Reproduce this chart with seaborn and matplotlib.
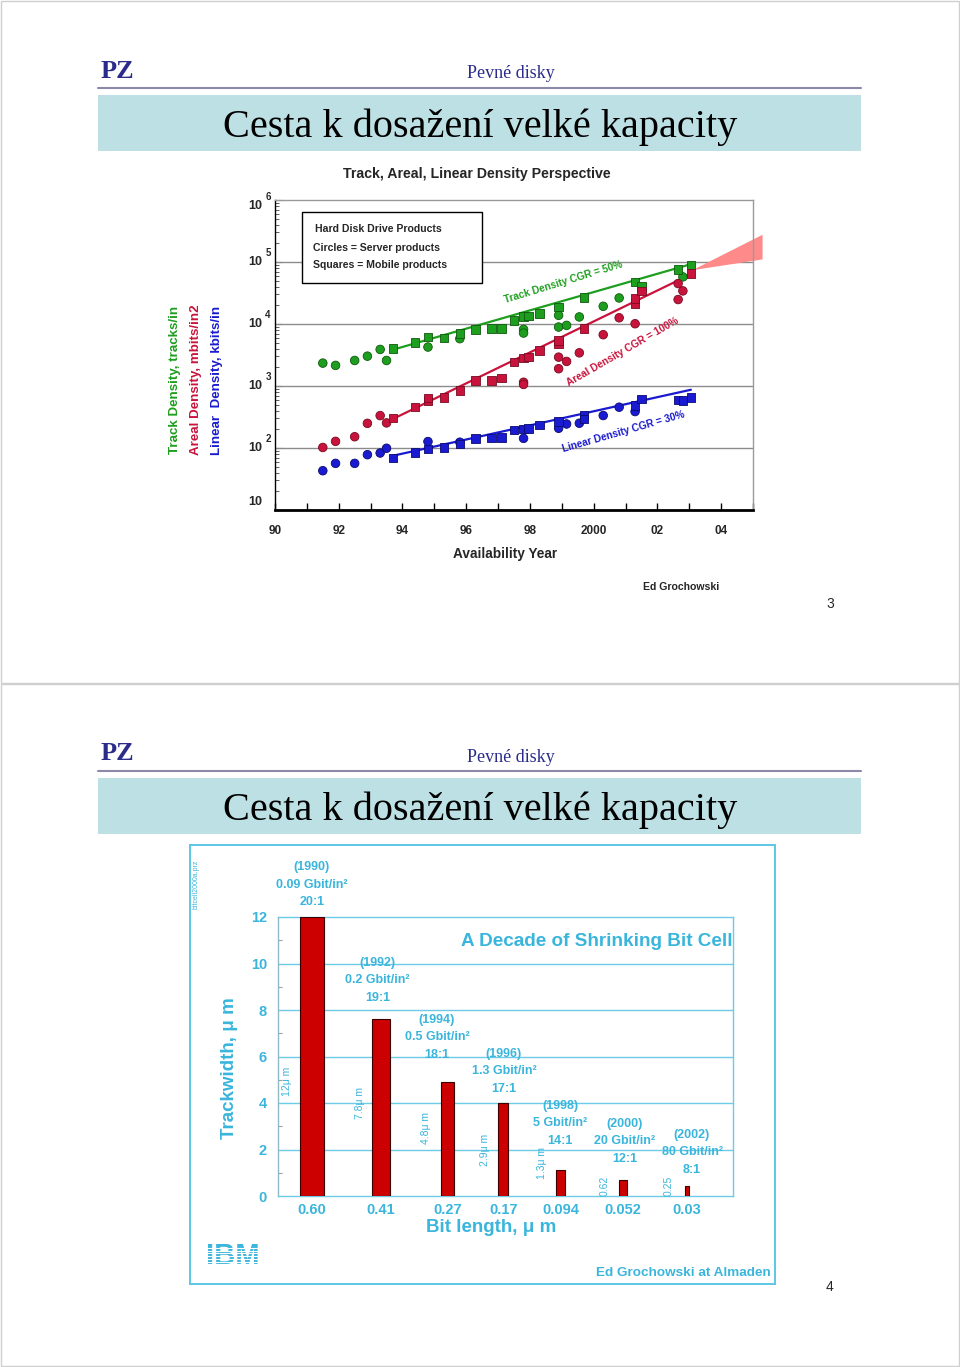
import matplotlib
matplotlib.use("Agg")
import matplotlib.pyplot as plt
from matplotlib.patches import Rectangle
from matplotlib.lines import Line2D
import pandas as pd
import seaborn as sns

# ---------------- slide 3: track / areal / linear density ----------------
track_server_years = [1991.5, 1991.9, 1992.5, 1992.9, 1993.3, 1993.5, 1994.8, 1995.8, 1997.8, 1997.8,
                      1998.9, 1998.9, 1999.15, 1999.55, 2000.3, 2000.8, 2002.8]
track_server_vals = [2340, 2150, 2580, 3030, 3890, 2580, 4250, 5800, 8200, 7150,
                     13800, 8930, 9500, 13000, 19300, 26300, 57500]
track_mobile_years = [1993.7, 1994.4, 1994.8, 1995.3, 1995.8, 1996.3, 1996.8, 1997.1, 1997.5, 1997.8,
                      1997.95, 1998.3, 1998.9, 1999.7, 2001.3, 2001.5, 2002.65, 2003.05]
track_mobile_vals = [3990, 4990, 6170, 5940, 6980, 8200, 8410, 8410, 11500, 13300,
                     13500, 14700, 18800, 26700, 47700, 40600, 75700, 88900]

areal_server_years = [1991.5, 1991.9, 1992.5, 1992.9, 1993.3, 1993.5, 1997.8, 1997.8, 1998.9, 1998.9,
                      1999.15, 1999.55, 2000.3, 2000.8, 2001.3, 2002.65, 2002.8, 2002.65]
areal_server_vals = [102, 128, 152, 250, 333, 254, 1150, 1060, 2920, 1900,
                     2490, 3430, 6720, 12600, 10100, 44900, 34200, 24800]
areal_mobile_years = [1993.7, 1994.4, 1994.8, 1994.8, 1995.3, 1995.8, 1996.3, 1996.8, 1997.1, 1997.5,
                      1997.8, 1997.95, 1998.3, 1998.9, 1998.9, 1999.7, 2001.3, 2001.3, 2001.5, 2003.05]
areal_mobile_vals = [305, 455, 569, 644, 659, 845, 1230, 1230, 1340, 2430,
                     2850, 2930, 3750, 4810, 5450, 8410, 21300, 25700, 33800, 65200]

linear_server_years = [1991.5, 1991.9, 1992.5, 1992.9, 1993.3, 1993.5, 1994.8, 1995.8, 1997.8, 1998.9,
                       1999.15, 1999.55, 2000.3, 2000.8, 2001.3]
linear_server_vals = [43, 56.5, 56.5, 78, 83, 99, 127, 124, 143, 208,
                      244, 251, 334, 455, 387]
linear_mobile_years = [1993.7, 1994.4, 1994.8, 1995.3, 1995.8, 1996.3, 1996.8, 1997.1, 1997.5, 1997.8,
                       1997.95, 1998.3, 1998.9, 1999.7, 1999.7, 2001.3, 2001.5, 2002.65, 2002.8, 2003.05]
linear_mobile_vals = [69, 85, 96, 102, 116, 143, 145, 149, 195, 203,
                      208, 236, 267, 342, 294, 484, 619, 597, 583, 659]

trend_years = [1993.7, 2003.05]
track_trend = [3850, 92200]
areal_trend = [294, 63500]
linear_trend = [75, 870]

forecast_years = [2003.1, 2005.3, 2005.3]
forecast_vals = [73800, 275000, 110000]

year_ticks = list(range(1990, 2006))
year_labels = ["90", "", "92", "", "94", "", "96", "", "98", "", "2000", "", "02", "", "04", ""]
decades = [10, 100, 1000, 10000, 100000, 1000000]

# ---------------- slide 4: shrinking bit cell ----------------
bit_lengths = ["0.60", "0.41", "0.27", "0.17", "0.094", "0.052", "0.03"]
trackwidths = [12.0, 7.6, 4.9, 4.0, 1.1, 0.7, 0.45]
cell_years = ["(1990)", "(1992)", "(1994)", "(1996)", "(1998)", "(2000)", "(2002)"]
densities = ["0.09", "0.2", "0.5", "1.3", "5", "20", "80"]
ratios = ["20:1", "19:1", "18:1", "17:1", "14:1", "12:1", "8:1"]
width_labels = ["12\u03bc m", "7.8\u03bc m", "4.8\u03bc m", "2.9\u03bc m", "1.3\u03bc m", "0.62", "0.25"]

# layout for slide 4 (slot units / data units)
bar_widths = [0.37, 0.29, 0.21, 0.16, 0.145, 0.13, 0.065]
bar_shift = [0.0, 0.10, 0.17, 0.06, -0.02, -0.02, 0.0]
note_y = [12.63, 8.53, 6.08, 4.61, 2.37, 1.59, 1.12]
note_dx = [0.0, 0.05, 0.0, 0.07, -0.03, 0.0, 0.08]
vlabel_pos = [(-0.4, 4.91), (0.77, 4.0), (1.82, 2.93), (2.77, 1.98), (3.68, 1.42), (4.69, 0.43), (5.7, 0.43)]

SERIF = "Liberation Serif"
SANS = "Liberation Sans"
NAVY = "#2b2b8c"
CYAN = "#3ab5dc"
GREEN, GREEN_E = "#1e9e1e", "#0c5a0c"
RED, RED_E = "#c8143c", "#780a20"
BLUE, BLUE_E = "#1a1ad0", "#0a0a70"

sns.set_style("white")
plt.rcParams["font.family"] = [SANS, "DejaVu Sans"]

W, H = 960, 1367
fig = plt.figure(figsize=(W / 100, H / 100), dpi=100)


def fx(px):
    return px / W


def fy(py):
    return 1 - py / H


def add_axes_px(left, top, right, bottom):
    return fig.add_axes([fx(left), fy(bottom), (right - left) / W, (bottom - top) / H])


# page frames
for top, bottom in [(1, 683), (684, 1366)]:
    fig.add_artist(Rectangle((fx(1), fy(bottom)), fx(958), fy(top) - fy(bottom),
                             fill=False, edgecolor="#cfcfcf", lw=1))


def slide_header(y0):
    fig.text(fx(117), fy(y0 + 71), "PZ", family=SERIF, fontsize=19, fontweight="bold",
             color=NAVY, ha="center", va="center")
    fig.text(fx(511), fy(y0 + 74), "Pevné disky", family=SERIF, fontsize=13,
             color=NAVY, ha="center", va="center")
    fig.add_artist(Line2D([fx(98), fx(861)], [fy(y0 + 88)] * 2, color="#8c88a8", lw=1.5))
    fig.add_artist(Rectangle((fx(98), fy(y0 + 151)), fx(861) - fx(98), fy(y0 + 95) - fy(y0 + 151),
                             color="#bce0e4", lw=0))
    fig.text(fx(480), fy(y0 + 127), "Cesta k dosažení velké kapacity", family=SERIF,
             fontsize=29, color="black", ha="center", va="center")


slide_header(0)
slide_header(683)

# ================= top chart =================
rows = []
for series, kind, xs, ys in [
    ("track", "server", track_server_years, track_server_vals),
    ("track", "mobile", track_mobile_years, track_mobile_vals),
    ("areal", "server", areal_server_years, areal_server_vals),
    ("areal", "mobile", areal_mobile_years, areal_mobile_vals),
    ("linear", "server", linear_server_years, linear_server_vals),
    ("linear", "mobile", linear_mobile_years, linear_mobile_vals),
]:
    for x, y in zip(xs, ys):
        rows.append({"year": x, "value": y, "series": series, "kind": kind})
df = pd.DataFrame(rows)

ax1 = add_axes_px(275, 200, 753, 510)
ax1.set_yscale("log")

for a in decades[1:-1]:
    ax1.axhline(a, color="#8c8c8c", lw=1, zorder=1)

ax1.fill(forecast_years, forecast_vals, color="#ff8a8a", lw=0, clip_on=False, zorder=2)

for series, col, edge, trend in [("track", GREEN, GREEN_E, track_trend),
                                 ("areal", RED, RED_E, areal_trend),
                                 ("linear", BLUE, BLUE_E, linear_trend)]:
    ax1.plot(trend_years, trend, color=col, lw=1.6, zorder=3)
    sns.scatterplot(data=df[df["series"] == series], x="year", y="value", style="kind",
                    markers={"server": "o", "mobile": "s"}, color=col, edgecolor=edge,
                    linewidth=0.6, s=38, legend=False, ax=ax1, zorder=4)

ax1.set_xlim(1990, 2005)
ax1.set_ylim(10, 1000000)
ax1.set_xlabel("")
ax1.set_ylabel("")
ax1.set_xticks(year_ticks)
ax1.set_xticklabels(year_labels, fontsize=8.5, fontweight="bold")
ax1.tick_params(axis="x", direction="in", length=5, width=1, pad=11, color="black", bottom=True)
ax1.tick_params(axis="y", which="both", direction="in", left=True, labelleft=False, color="#444444")
ax1.tick_params(axis="y", which="major", length=5)
ax1.tick_params(axis="y", which="minor", length=3, width=0.6)
ax1.spines["left"].set_color("black")
ax1.spines["left"].set_linewidth(1.0)
ax1.spines["bottom"].set_color("black")
ax1.spines["bottom"].set_linewidth(2.0)
for side in ["top", "right"]:
    ax1.spines[side].set_color("#9a9a9a")
    ax1.spines[side].set_linewidth(1.0)

label_shift = {10: 8, 1000000: -6}
for i, d in enumerate(decades):
    dy = label_shift.get(d, 0)
    ax1.annotate("10", xy=(0, d), xycoords=("axes fraction", "data"), xytext=(-20, dy),
                 textcoords="offset pixels", ha="center", va="center", fontsize=9, fontweight="bold",
                 annotation_clip=False)
    if i > 0:
        ax1.annotate(str(i + 1), xy=(0, d), xycoords=("axes fraction", "data"), xytext=(-7, dy + 9),
                     textcoords="offset pixels", ha="center", va="center", fontsize=7,
                     fontweight="bold", annotation_clip=False)

# legend box
ax1.add_patch(Rectangle((0.056, 0.732), 0.377, 0.229, transform=ax1.transAxes,
                        facecolor="white", edgecolor="black", lw=1, zorder=6))
ax1.text(0.083, 0.908, "Hard Disk Drive Products", transform=ax1.transAxes, fontsize=7.6,
         fontweight="bold", va="center", zorder=7)
ax1.text(0.079, 0.845, "Circles = Server products", transform=ax1.transAxes, fontsize=7.6,
         fontweight="bold", va="center", zorder=7)
ax1.text(0.079, 0.790, "Squares = Mobile products", transform=ax1.transAxes, fontsize=7.6,
         fontweight="bold", va="center", zorder=7)

fig.text(fx(563), fy(282), "Track Density CGR = 50%", color=GREEN, fontsize=7.3, fontweight="bold",
         rotation=17, ha="center", va="center", rotation_mode="anchor")
fig.text(fx(623), fy(352), "Areal Density CGR = 100%", color=RED, fontsize=7.3, fontweight="bold",
         rotation=30, ha="center", va="center", rotation_mode="anchor")
fig.text(fx(624), fy(432), "Linear Density CGR = 30%", color=BLUE, fontsize=7.3, fontweight="bold",
         rotation=16, ha="center", va="center", rotation_mode="anchor")

fig.text(fx(477), fy(174), "Track, Areal, Linear Density Perspective", fontsize=10.2,
         fontweight="bold", ha="center", va="center")
fig.text(fx(505), fy(554), "Availability Year", fontsize=9.8, fontweight="bold", ha="center", va="center")
fig.text(fx(681), fy(587), "Ed Grochowski", fontsize=7.6, fontweight="bold", ha="center", va="center")
fig.text(fx(175), fy(380), "Track Density, tracks/in", color=GREEN, fontsize=9.6, fontweight="bold",
         rotation=90, ha="center", va="center")
fig.text(fx(196), fy(380), "Areal Density, mbits/in2", color=RED, fontsize=9.6, fontweight="bold",
         rotation=90, ha="center", va="center")
fig.text(fx(217), fy(380), "Linear  Density, kbits/in", color=BLUE, fontsize=9.6, fontweight="bold",
         rotation=90, ha="center", va="center")
fig.text(fx(830), fy(604), "3", fontsize=10, ha="center", va="center")

# ================= bottom chart =================
fig.add_artist(Rectangle((fx(190), fy(1284)), fx(775) - fx(190), fy(845) - fy(1284),
                         fill=False, edgecolor="#5cc6e4", lw=1.4))

ax2 = add_axes_px(278, 917, 733, 1196)
cells = pd.DataFrame({"bit": bit_lengths, "width": trackwidths})
sns.barplot(data=cells, x="bit", y="width", order=bit_lengths, color="#cc0000",
            edgecolor="#3a0000", linewidth=0.8, errorbar=None, saturation=1, ax=ax2, zorder=3)
for patch, w, sh in zip(ax2.patches, bar_widths, bar_shift):
    c = patch.get_x() + patch.get_width() / 2 + sh
    patch.set_width(w)
    patch.set_x(c - w / 2)

for g in [2, 4, 6, 8, 10]:
    ax2.axhline(g, color="#6ccbe6", lw=1, zorder=1)

ax2.set_xlim(-0.544, 6.736)
ax2.set_ylim(0, 12)
ax2.set_xlabel("")
ax2.set_ylabel("")
ax2.set_xticks([i + sh for i, sh in enumerate(bar_shift)])
ax2.set_xticklabels(bit_lengths, fontweight="bold")
ax2.set_yticks([0, 2, 4, 6, 8, 10, 12])
ax2.set_yticklabels(["0", "2", "4", "6", "8", "10", "12"], fontweight="bold")
ax2.set_yticks([1, 3, 5, 7, 9, 11], minor=True)
ax2.tick_params(axis="y", which="major", length=0, pad=8, labelsize=10.5, labelcolor=CYAN)
ax2.tick_params(axis="y", which="minor", direction="in", length=3, width=0.8, color="#a0a0a0", left=True)
ax2.tick_params(axis="x", length=0, pad=5, labelsize=10.5, labelcolor=CYAN)
for side in ["top", "right", "bottom"]:
    ax2.spines[side].set_color("#6ccbe6")
    ax2.spines[side].set_linewidth(1)
ax2.spines["left"].set_color("#8fb8c8")
ax2.spines["left"].set_linewidth(1)

fig.text(fx(491), fy(1228), "Bit length, \u03bc m", color=CYAN, fontsize=13.5, fontweight="bold",
         ha="center", va="center")
fig.text(fx(229), fy(1068), "Trackwidth, \u03bc m", color=CYAN, fontsize=13.5, fontweight="bold",
         rotation=90, ha="center", va="center")
ax2.text(1.0, 0.912, "A Decade of Shrinking Bit Cell", transform=ax2.transAxes, color=CYAN,
         fontsize=13.6, fontweight="bold", ha="right", va="center")

step = 0.755
for i in range(len(bit_lengths)):
    x = i + note_dx[i]
    ax2.text(x, note_y[i], ratios[i], color=CYAN, fontsize=9, fontweight="bold",
             ha="center", va="center", clip_on=False)
    ax2.text(x, note_y[i] + step, densities[i] + " Gbit/in\u00b2", color=CYAN, fontsize=9,
             fontweight="bold", ha="center", va="center", clip_on=False)
    ax2.text(x, note_y[i] + 2 * step, cell_years[i], color=CYAN, fontsize=9, fontweight="bold",
             ha="center", va="center", clip_on=False)
    vx, vy = vlabel_pos[i]
    ax2.text(vx, vy, width_labels[i], color=CYAN, fontsize=7.5,
             rotation=90, ha="center", va="center", clip_on=False)

fig.text(fx(196), fy(884), "bitcell2000a.prz", color=CYAN, fontsize=5, rotation=90,
         ha="center", va="center")
fig.text(fx(683), fy(1273), "Ed Grochowski at Almaden", color=CYAN, fontsize=9.7,
         fontweight="bold", ha="center", va="center")
fig.text(fx(233), fy(1256), "IBM", color=CYAN, fontsize=21, fontweight="bold",
         ha="center", va="center", zorder=5)
for k in range(7):
    yy = 1247.8 + 2.75 * k
    fig.add_artist(Line2D([fx(200), fx(268)], [fy(yy)] * 2, color="white", lw=0.8, zorder=10))
fig.text(fx(830), fy(1287), "4", fontsize=10, ha="center", va="center")

fig.savefig("out.png", dpi=100)
